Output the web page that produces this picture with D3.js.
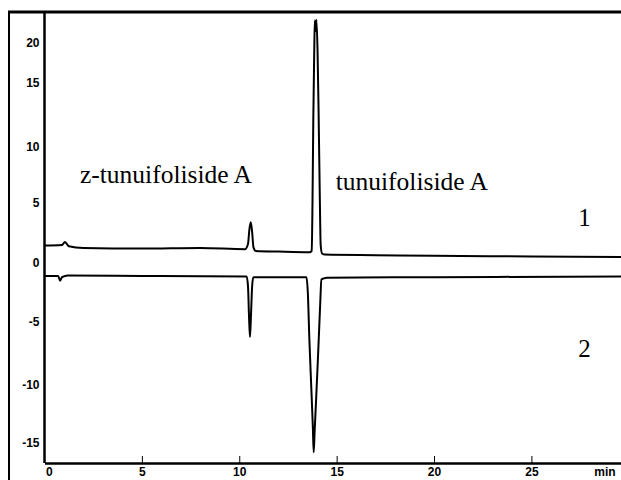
<!DOCTYPE html>
<html lang="en">
<head>
  <meta charset="utf-8">
  <title>Chromatogram</title>
  <script src="https://d3js.org/d3.v7.min.js"></script>
  <style>
    body { margin: 0; background: #fff; }
    .axis text { font: bold 12px "Liberation Sans", sans-serif; fill: #000; }
    .axis path, .axis line { stroke: #000; }
    .label { font-family: "Liberation Serif", serif; fill: #000; }
  </style>
</head>
<body>
<div id="chart"></div>
<script>
  "use strict"

  // trace 1 (upper), time in min / signal
  var trace1Time = [0, 0.9, 1.05, 1.25, 2, 5, 8, 10.3, 10.45, 10.52, 10.59, 10.66, 10.73, 10.85, 12,
    13.6, 13.72, 13.76, 13.8, 13.85, 13.88, 13.92, 13.96, 14.02, 14.08, 14.14, 14.18, 14.25, 14.4,
    17, 20, 25, 29.6];
  var trace1Value = [1.45, 1.5, 1.75, 1.4, 1.25, 1.2, 1.25, 1.15, 1.6, 2.8, 3.4, 2.6, 1.3, 1.0, 0.95,
    0.9, 1.0, 5, 12, 19, 22.8, 21.5, 22.9, 19, 12, 5, 1.5, 0.8, 0.7,
    0.65, 0.6, 0.55, 0.5];

  // trace 2 (lower)
  var trace2Time = [0, 0.7, 0.8, 0.9, 1.2, 5, 10.38, 10.45, 10.5, 10.55, 10.6, 10.66, 10.72,
    13.45, 13.52, 13.6, 13.7, 13.78, 13.82, 13.87, 13.95, 14.05, 14.15, 14.22, 14.35, 14.5, 20, 29.6];
  var trace2Value = [-1.1, -1.1, -1.5, -1.2, -1.05, -1.1, -1.15, -2, -4.5, -6.2, -4.5, -2, -1.2,
    -1.2, -2.5, -6.4, -10.3, -13.7, -15.8, -14, -11.1, -7.5, -3.7, -1.4, -1.3, -1.25, -1.2, -1.15];

  var xTicks = [0, 5, 10, 15, 20, 25];
  var yTicks = [-15, -10, -5, 0, 5, 10, 15, 20];

  var peakLabels = [
    {text: "z-tunuifoliside A", t: 1.82, v: 6.8},
    {text: "tunuifoliside A", t: 14.95, v: 6.2}
  ];
  var traceLabels = [
    {text: "1", t: 27.4, v: 3.1},
    {text: "2", t: 27.4, v: -7.8}
  ];

  var W = 621, H = 480;
  var plotLeft = 44.5, plotTop = 12, plotBottom = 463;

  var svg = d3.select("#chart").append("svg")
      .attr("width", W)
      .attr("height", H);

  var x = d3.scaleLinear().domain([0, 29.6]).range([plotLeft, W]);
  // the printed scale is not quite even, so follow the printed tick positions
  var y = d3.scaleLinear()
      .domain(yTicks)
      .range([443, 385, 322, 263, 203, 147, 83, 43]);

  // outer frame
  svg.append("line")
      .attr("x1", 9).attr("x2", 9).attr("y1", plotTop).attr("y2", H)
      .attr("stroke", "#000").attr("stroke-width", 2);
  svg.append("line")
      .attr("x1", 8).attr("x2", W).attr("y1", plotTop).attr("y2", plotTop)
      .attr("stroke", "#000").attr("stroke-width", 3);

  // axes
  var xAxis = svg.append("g")
      .attr("class", "axis")
      .attr("transform", "translate(0," + plotBottom + ")")
      .call(d3.axisBottom(x).tickValues(xTicks).tickSizeInner(-7).tickSizeOuter(0)
        .tickPadding(4).tickFormat(d => String(d)));
  xAxis.select(".domain").attr("stroke-width", 2.5);
  xAxis.selectAll(".tick line").attr("stroke-width", 1);
  xAxis.selectAll(".tick").filter(d => d === 0).select("line").remove();
  xAxis.selectAll(".tick").filter(d => d === 0).select("text").attr("text-anchor", "start").attr("x", 1);

  xAxis.append("text")
      .attr("x", 605).attr("y", 4).attr("dy", "0.71em")
      .attr("text-anchor", "middle")
      .text("min");

  var yAxis = svg.append("g")
      .attr("class", "axis")
      .attr("transform", "translate(" + plotLeft + ",0)")
      .call(d3.axisLeft(y).tickValues(yTicks).tickSize(0).tickPadding(5)
        .tickFormat(d => String(d)));
  yAxis.select(".domain").attr("d", "M0," + plotTop + "V" + plotBottom).attr("stroke-width", 2.5);

  // traces
  var line = d3.line()
      .x(d => x(d[0]))
      .y(d => y(d[1]))
      .curve(d3.curveMonotoneX);

  var traces = [d3.zip(trace1Time, trace1Value), d3.zip(trace2Time, trace2Value)];
  svg.selectAll(".trace")
      .data(traces)
      .enter().append("path")
      .attr("class", "trace")
      .attr("d", line)
      .attr("fill", "none")
      .attr("stroke", "#000")
      .attr("stroke-width", 2)
      .attr("stroke-linejoin", "round");

  // labels
  svg.selectAll(".peak")
      .data(peakLabels)
      .enter().append("text")
      .attr("class", "label peak")
      .attr("x", d => x(d.t))
      .attr("y", d => y(d.v))
      .attr("font-size", 25.5)
      .text(d => d.text);

  svg.selectAll(".tr")
      .data(traceLabels)
      .enter().append("text")
      .attr("class", "label tr")
      .attr("x", d => x(d.t))
      .attr("y", d => y(d.v))
      .attr("font-size", 25)
      .text(d => d.text);
</script>
</body>
</html>
